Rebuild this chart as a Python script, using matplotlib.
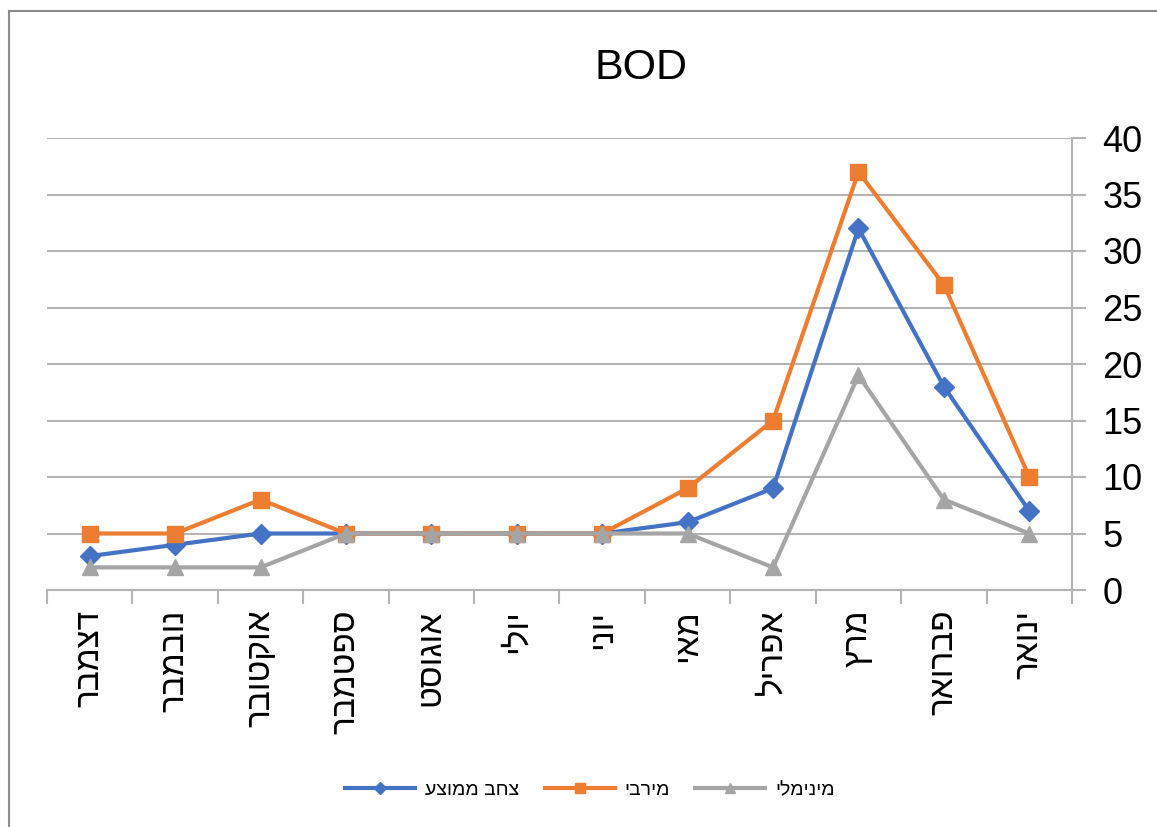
import matplotlib
matplotlib.use("Agg")
import matplotlib.pyplot as plt
from matplotlib.patches import Rectangle

# Data (January ... December), x axis runs right-to-left like the original
months = ["ינואר", "פברואר", "מרץ", "אפריל", "מאי", "יוני",
          "יולי", "אוגוסט", "ספטמבר", "אוקטובר", "נובמבר", "דצמבר"]
avg_bod = [7, 18, 32, 9, 6, 5, 5, 5, 5, 5, 4, 3]
max_bod = [10, 27, 37, 15, 9, 5, 5, 5, 5, 8, 5, 5]
min_bod = [5, 8, 19, 2, 5, 5, 5, 5, 5, 2, 2, 2]
series_names = ["צחב ממוצע", "מירבי", "מינימלי"]


def rtl(s):
    # matplotlib has no bidi support: give it the visual order
    return s[::-1]


plt.rcParams["font.family"] = ["Liberation Sans", "DejaVu Sans"]

blue = "#4472C4"
orange = "#ED7D31"
grey = "#A5A5A5"
grid_color = "#B4B4B4"

fig = plt.figure(figsize=(11.57, 8.27), dpi=100)
ax = fig.add_axes([47 / 1157, 1 - 590 / 827, (1072 - 47) / 1157, (590 - 138) / 827])

x = list(range(len(months)))
ax.plot(x, avg_bod, color=blue, lw=3, marker="D", ms=10, label=rtl(series_names[0]), zorder=3)
ax.plot(x, max_bod, color=orange, lw=3, marker="s", ms=12, label=rtl(series_names[1]), zorder=4)
ax.plot(x, min_bod, color=grey, lw=3, marker="^", ms=12, label=rtl(series_names[2]), zorder=5)

ax.set_xlim(len(months) - 0.5, -0.5)
ax.set_ylim(0, 40)
ax.set_yticks(range(0, 41, 5))

# Excel-like axes: value axis on the right, category ticks between labels
ax.yaxis.tick_right()
ax.grid(axis="y", color=grid_color, lw=1.5)
ax.set_axisbelow(True)
for side in ["top", "left"]:
    ax.spines[side].set_visible(False)
ax.spines["right"].set_color(grid_color)
ax.spines["right"].set_linewidth(1.5)
ax.spines["bottom"].set_color(grid_color)
ax.spines["bottom"].set_linewidth(1.5)

ax.set_xticks(x)
ax.set_xticklabels([rtl(m) for m in months], rotation=90, va="top", ha="center", fontsize=24)
ax.set_xticks([i - 0.5 for i in range(len(months) + 1)], minor=True)
ax.tick_params(axis="x", which="major", length=0, pad=14)
ax.tick_params(axis="x", which="minor", length=10, width=1.5, color=grid_color)
ax.tick_params(axis="y", length=10, width=1.5, color=grid_color, labelsize=26, pad=12)

fig.text(641 / 1157, 1 - 68 / 827, "BOD", fontsize=31, ha="center", va="center")

fig.legend(loc="center", bbox_to_anchor=(590 / 1157, 1 - 790 / 827), ncol=3,
           frameon=False, fontsize=14, handlelength=3.6, handletextpad=0.5,
           columnspacing=1.3, markerscale=0.6)

# outer chart frame
fig.patches.append(Rectangle((9 / 1157, -0.1), 1.2, 1 - 11 / 827 + 0.1,
                             transform=fig.transFigure, fill=False,
                             edgecolor="#8C8C8C", lw=1.5))

fig.savefig("out.png", dpi=100)
